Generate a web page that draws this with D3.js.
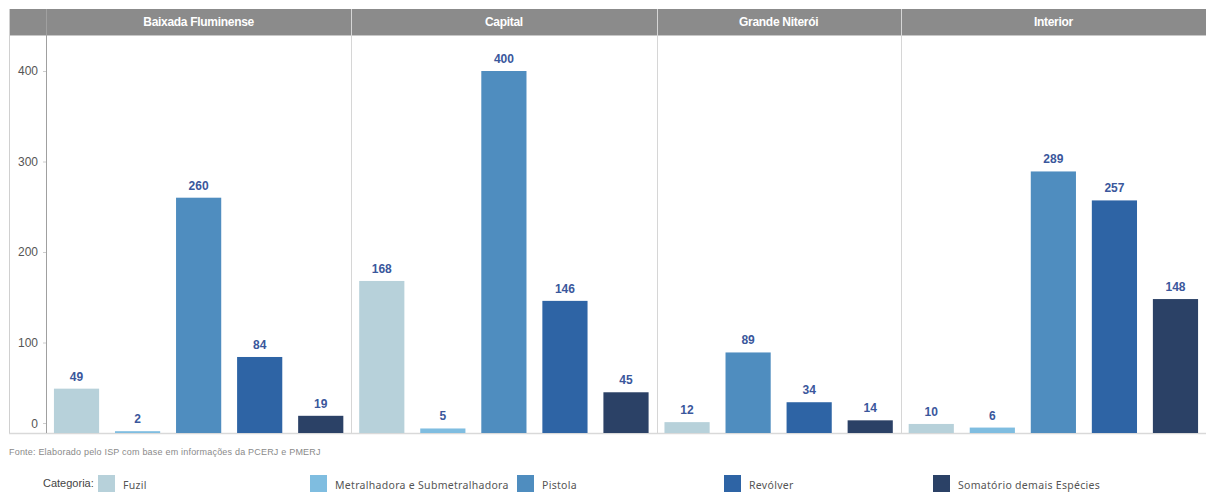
<!DOCTYPE html>
<html><head><meta charset="utf-8">
<script src="https://cdn.jsdelivr.net/npm/d3@7"></script>
<style>body{margin:0;background:#fff}svg{display:block}</style>
</head><body><svg id="c" width="1206" height="494"></svg>
<script>
const regions = ["Baixada Fluminense","Capital","Grande Niterói","Interior"];
const categories = ["Fuzil","Metralhadora e Submetralhadora","Pistola","Revólver","Somatório demais Espécies"];
const colors = ["#b7d1da","#7fbde0","#4f8dbf","#2e64a5","#2b4166"];
const baixada = [49,2,260,84,19];
const capital = [168,5,400,146,45];
const niteroi = [12,null,89,34,14];
const interior = [10,6,289,257,148];
const yTicks = [0,100,200,300,400];
const seriesByRegion = [baixada,capital,niteroi,interior];

const svg = d3.select("#c");
const plotLeft = 46, plotRight = 1206, plotBottom = 433;
const y = d3.scaleLinear().domain([0,400]).range([plotBottom,71]);

// panels
const panels = regions.map((r,i)=>{
  const vals = seriesByRegion[i].map((v,j)=>({cat:categories[j],v,c:colors[j]})).filter(d=>d.v!=null);
  return {name:r,vals};
});
const total = d3.sum(panels,p=>p.vals.length);
const step = (plotRight-plotLeft)/total;
let acc = plotLeft;
panels.forEach(p=>{p.x0=acc; p.x1=acc+p.vals.length*step; acc=p.x1;});

// header bar
svg.append("rect").attr("x",9).attr("y",9).attr("width",1206-9).attr("height",26).attr("fill","#8b8b8b");
svg.append("line").attr("x1",9).attr("x2",1206).attr("y1",35.5).attr("y2",35.5).attr("stroke","#c8c8c8");
// bottom baseline
svg.append("line").attr("x1",9).attr("x2",1206).attr("y1",plotBottom+0.5).attr("y2",plotBottom+0.5).attr("stroke","#d9d9d9").attr("stroke-width",1.5);
// left axis column border
svg.append("line").attr("x1",9.5).attr("x2",9.5).attr("y1",9).attr("y2",plotBottom).attr("stroke","#d0d0d0");
svg.append("line").attr("x1",plotLeft+0.5).attr("x2",plotLeft+0.5).attr("y1",9).attr("y2",plotBottom).attr("stroke","#a0a0a0");

panels.forEach((p,i)=>{
  if(i>0){
    svg.append("line").attr("x1",Math.round(p.x0)+0.5).attr("x2",Math.round(p.x0)+0.5).attr("y1",9).attr("y2",plotBottom)
      .attr("stroke","#d6d6d6");
  }
  svg.append("text").attr("x",(p.x0+p.x1)/2).attr("y",26).attr("text-anchor","middle")
    .attr("font-family","Arial, 'Liberation Sans', sans-serif").attr("font-weight","bold").attr("font-size",12)
    .attr("letter-spacing","-0.3").attr("fill","#fff").text(p.name);
  const x = d3.scaleBand().domain(p.vals.map(d=>d.cat)).range([p.x0,p.x1]).paddingInner(0.26).paddingOuter(0.13);
  const g = svg.append("g");
  g.selectAll("rect").data(p.vals).join("rect")
    .attr("x",d=>x(d.cat)).attr("width",x.bandwidth())
    .attr("y",d=>y(d.v)).attr("height",d=>plotBottom-y(d.v)).attr("fill",d=>d.c);
  g.selectAll("text").data(p.vals).join("text")
    .attr("x",d=>x(d.cat)+x.bandwidth()/2).attr("y",d=>y(d.v)-8)
    .attr("text-anchor","middle").attr("font-family","Arial, 'Liberation Sans', sans-serif")
    .attr("font-weight","bold").attr("font-size",12).attr("fill","#3a579c").text(d=>d.v);
});

// y axis
const ax = svg.append("g").attr("transform",`translate(${plotLeft},0)`)
  .call(d3.axisLeft(y).tickValues(yTicks).tickSize(3).tickPadding(5));
ax.select(".domain").remove();
ax.selectAll(".tick line").attr("stroke","#ccc");
ax.selectAll(".tick text").attr("font-family","Arial, 'Liberation Sans', sans-serif").attr("font-size",12).attr("fill","#555")
  .attr("dy",d=>d===0?"-0.45em":"0.32em");
ax.selectAll(".tick").filter(d=>d===0).select("line").attr("transform","translate(0,-10)");

// footnote
svg.append("text").attr("x",9).attr("y",455).attr("font-family","Arial, 'Liberation Sans', sans-serif")
  .attr("font-size",9).attr("letter-spacing","0.2").attr("fill","#8a8a8a").text("Fonte: Elaborado pelo ISP com base em informações da PCERJ e PMERJ");

// legend
svg.append("text").attr("x",43).attr("y",487).attr("font-family","Arial, 'Liberation Sans', sans-serif")
  .attr("font-size",11).attr("fill","#444").text("Categoria:");
const legX = [98,310,517,724,933];
const lg = svg.append("g").selectAll("g").data(categories).join("g")
  .attr("transform",(d,i)=>`translate(${legX[i]},475)`);
lg.append("rect").attr("width",17).attr("height",17).attr("fill",(d,i)=>colors[i]);
lg.append("text").attr("x",25).attr("y",14).attr("font-family","'Noto Sans', 'DejaVu Sans', sans-serif")
  .attr("font-size",10.5).attr("letter-spacing","0.3").attr("fill","#555").text(d=>d);
</script></body></html>
